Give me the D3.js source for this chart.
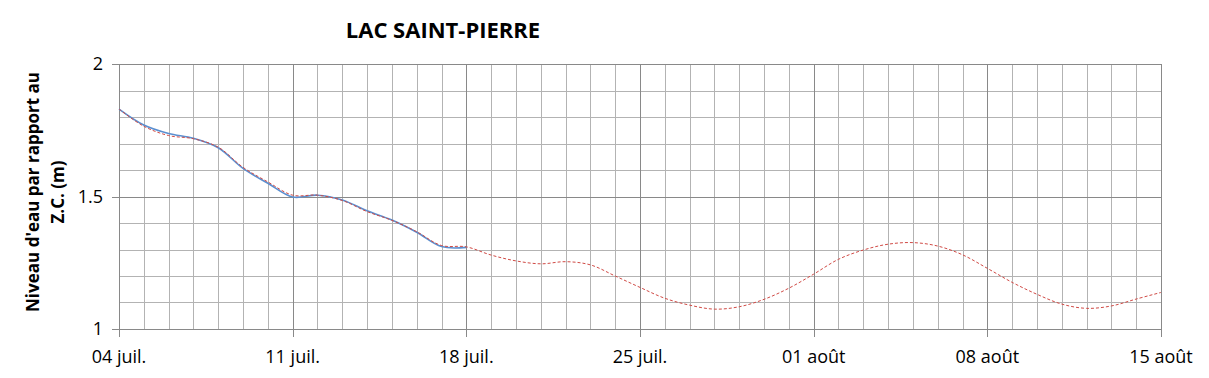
<!DOCTYPE html>
<html>
<head>
<meta charset="utf-8">
<script src="https://cdn.jsdelivr.net/npm/d3@7"></script>
<style>
  body { margin: 0; background: #fff; }
  text { font-family: "Open Sans", "Liberation Sans", sans-serif; }
</style>
</head>
<body>
<div id="chart"></div>
<script>
// days since 04 juil.
var weekTicks = [0, 7, 14, 21, 28, 35, 42];
var weekLabels = ["04 juil.", "11 juil.", "18 juil.", "25 juil.", "01 août", "08 août", "15 août"];
var yTicks = [1, 1.5, 2];
var yTickLabels = ["1", "1.5", "2"];

// observed level (blue)
var observed = [1.83, 1.77, 1.738, 1.72, 1.684, 1.606, 1.55, 1.498, 1.505, 1.487, 1.446, 1.411, 1.365, 1.311, 1.308];
// forecast level (red dashed)
var forecast = [1.83, 1.765, 1.73, 1.718, 1.686, 1.61, 1.555, 1.505, 1.505, 1.485, 1.443, 1.41, 1.367, 1.315, 1.31,
  1.279, 1.257, 1.246, 1.254, 1.242, 1.20, 1.157, 1.116, 1.09, 1.075, 1.084, 1.112, 1.154, 1.207, 1.263, 1.298,
  1.32, 1.326, 1.313, 1.28, 1.229, 1.176, 1.131, 1.094, 1.078, 1.087, 1.113, 1.138];

var W = 1209, H = 378;
var margin = { top: 64, right: 48, bottom: 49, left: 119 },
  width = W - margin.left - margin.right,
  height = H - margin.top - margin.bottom;

var svgRoot = d3.select("#chart").append("svg")
  .attr("width", W).attr("height", H);
var svg = svgRoot.append("g")
  .attr("transform", "translate(" + margin.left + "," + margin.top + ")");

var x = d3.scaleLinear().domain([0, 42]).range([0, width]);
var y = d3.scaleLinear().domain([1, 2]).range([height, 0]);

// gridlines - minor first
var days = d3.range(0, 43);
svg.append("g").selectAll("line.vmin")
  .data(days.filter(function(d) { return d % 7 != 0; }))
  .enter().append("line")
  .attr("x1", function(d) { return Math.round(x(d)) + 0.5; })
  .attr("x2", function(d) { return Math.round(x(d)) + 0.5; })
  .attr("y1", 0).attr("y2", height)
  .attr("stroke", "#b3b3b3").attr("stroke-width", 1);

var levels = d3.range(0, 11).map(function(i) { return 1 + i / 10; });
svg.append("g").selectAll("line.hmin")
  .data(levels.filter(function(d, i) { return i % 5 != 0; }))
  .enter().append("line")
  .attr("x1", 0).attr("x2", width)
  .attr("y1", function(d) { return Math.round(y(d)) + 0.5; })
  .attr("y2", function(d) { return Math.round(y(d)) + 0.5; })
  .attr("stroke", "#b3b3b3").attr("stroke-width", 1);

// major gridlines
svg.append("g").selectAll("line.vmaj")
  .data(weekTicks)
  .enter().append("line")
  .attr("x1", function(d) { return Math.round(x(d)) + 0.5; })
  .attr("x2", function(d) { return Math.round(x(d)) + 0.5; })
  .attr("y1", 0).attr("y2", height + 8)
  .attr("stroke", "#898989").attr("stroke-width", 1);

svg.append("g").selectAll("line.hmaj")
  .data(yTicks)
  .enter().append("line")
  .attr("x1", -7).attr("x2", width)
  .attr("y1", function(d) { return Math.round(y(d)) + 0.5; })
  .attr("y2", function(d) { return Math.round(y(d)) + 0.5; })
  .attr("stroke", "#898989").attr("stroke-width", 1);

// tick labels
svg.append("g").selectAll("text.xl")
  .data(weekTicks)
  .enter().append("text")
  .attr("x", function(d) { return x(d); })
  .attr("y", height + 34)
  .attr("text-anchor", "middle")
  .style("font-size", "18px")
  .text(function(d, i) { return weekLabels[i]; });

svg.append("g").selectAll("text.yl")
  .data(yTicks)
  .enter().append("text")
  .attr("x", -16)
  .attr("y", function(d) { return y(d) + 6; })
  .attr("text-anchor", "end")
  .style("font-size", "18px")
  .text(function(d, i) { return yTickLabels[i]; });

// series
var line = d3.line()
  .x(function(d, i) { return x(i); })
  .y(function(d) { return y(d); })
  .curve(d3.curveCatmullRom);

svg.append("path")
  .datum(observed)
  .attr("fill", "none")
  .attr("stroke", "#5b8fd0")
  .attr("stroke-width", 1.6)
  .attr("d", line);

svg.append("path")
  .datum(forecast)
  .attr("fill", "none")
  .attr("stroke", "#d04a45")
  .attr("stroke-width", 1)
  .attr("stroke-dasharray", "3,2")
  .attr("d", line);

// title
svgRoot.append("text")
  .attr("x", 443).attr("y", 38)
  .attr("text-anchor", "middle")
  .style("font-size", "22px")
  .style("font-weight", "bold")
  .text("LAC SAINT-PIERRE");

// y axis label
var yl = svgRoot.append("text")
  .attr("transform", "translate(39,192)rotate(-90)")
  .attr("text-anchor", "middle")
  .style("font-size", "17px")
  .style("font-weight", "bold");
yl.append("tspan").attr("x", 0).attr("y", 0).text("Niveau d'eau par rapport au");
yl.append("tspan").attr("x", 0).attr("y", 25).text("Z.C. (m)");
</script>
</body>
</html>
